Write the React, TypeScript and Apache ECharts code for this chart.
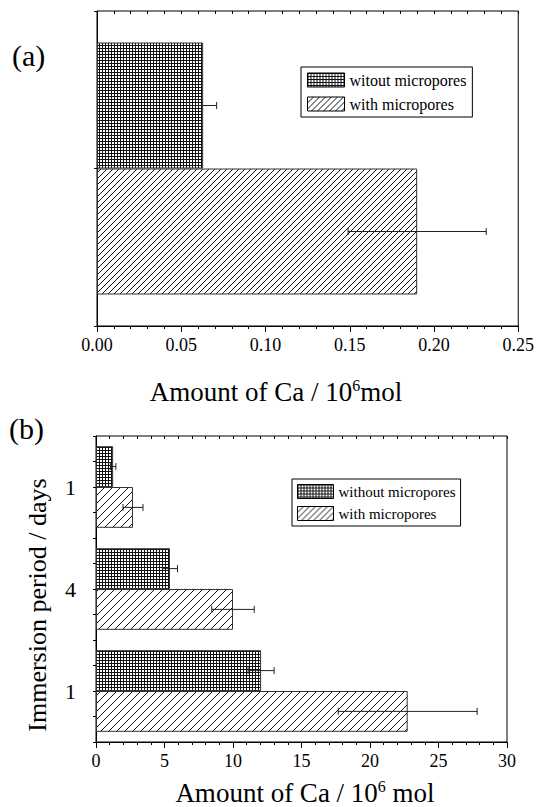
import React, { useEffect, useRef } from 'react';
import * as echarts from 'echarts';

// ---- data ----
const legendA = ['witout micropores', 'with micropores'];
const legendB = ['without micropores', 'with micropores'];
const categoriesA = [''];
const aWithout = [0.063];
const aWithoutErr = [0.008];
const aWith = [0.19];
const aWithErr = [0.041];
// immersion period labels, top to bottom
const categoriesB = ['1', '4', '1'];
const bWithout = [1.25, 5.4, 12.05];
const bWithoutErr = [0.2, 0.55, 0.95];
const bWith = [2.7, 10.0, 22.75];
const bWithErr = [0.73, 1.55, 5.07];

const FONT = '"Liberation Serif", "Times New Roman", serif';

function svgUrl(svg: string) {
  return 'data:image/svg+xml;charset=utf-8,' + encodeURIComponent(svg);
}
function gridPattern(step: number) {
  const svg = `<svg xmlns="http://www.w3.org/2000/svg" width="${step}" height="${step}"><rect width="${step}" height="${step}" fill="#fff"/><rect x="0" y="0" width="${step}" height="1" fill="#111"/><rect x="0" y="0" width="1" height="${step}" fill="#111"/></svg>`;
  return { image: svgUrl(svg), repeat: 'repeat', imageWidth: step, imageHeight: step } as any;
}
function hatchPattern(s: number) {
  const svg = `<svg xmlns="http://www.w3.org/2000/svg" width="${s}" height="${s}"><rect width="${s}" height="${s}" fill="#fff"/><path d="M0,${s} L${s},0 M-1,1 L1,-1 M${s - 1},${s + 1} L${s + 1},${s - 1}" stroke="#111" stroke-width="1"/></svg>`;
  return { image: svgUrl(svg), repeat: 'repeat', imageWidth: s, imageHeight: s } as any;
}

function errorSeries(xIdx: number, yIdx: number, vals: number[], errs: number[], slot: number) {
  return {
    type: 'custom',
    xAxisIndex: xIdx,
    yAxisIndex: yIdx,
    silent: true,
    z: 10,
    encode: { x: [1, 2], y: 0 },
    data: vals.map((v, i) => [i, v - errs[i], v + errs[i], slot]),
    renderItem: (params: any, api: any) => {
      const cat = api.value(0);
      const lo = api.value(1);
      const hi = api.value(2);
      const s = api.value(3);
      const p1 = api.coord([lo, cat]);
      const p2 = api.coord([hi, cat]);
      const band = api.size([0, 1])[1];
      const y = p1[1] + (-0.2 + 0.4 * s) * band;
      const h = 3.5;
      const st = { stroke: '#222', lineWidth: 1 };
      return {
        type: 'group',
        children: [
          { type: 'line', shape: { x1: p1[0], y1: y, x2: p2[0], y2: y }, style: st },
          { type: 'line', shape: { x1: p1[0], y1: y - h, x2: p1[0], y2: y + h }, style: st },
          { type: 'line', shape: { x1: p2[0], y1: y - h, x2: p2[0], y2: y + h }, style: st },
        ],
      };
    },
  };
}

const black = { color: '#000', width: 1 };

export default function App() {
  const ref = useRef<HTMLDivElement>(null);
  useEffect(() => {
    if (!ref.current) return;
    const chart = echarts.init(ref.current, undefined, { renderer: 'svg' });
    const crossA = gridPattern(3);
    const hatchA = hatchPattern(6);
    const crossB = gridPattern(3);
    const hatchB = hatchPattern(8);
    const barBorder = { borderColor: '#333', borderWidth: 1 };

    const option: any = {
      animation: false,
      backgroundColor: '#fff',
      grid: [
        { left: 97, top: 11, width: 422, height: 315, show: true, borderColor: '#000', borderWidth: 1, containLabel: false },
        { left: 96, top: 436, width: 411, height: 306, show: true, borderColor: '#000', borderWidth: 1, containLabel: false },
      ],
      xAxis: [
        {
          gridIndex: 0, type: 'value', min: 0, max: 0.25, interval: 0.05, position: 'bottom',
          axisLine: { show: true, lineStyle: black },
          axisTick: { show: true, length: 6, lineStyle: black },
          minorTick: { show: true, splitNumber: 5, length: 3, lineStyle: black },
          splitLine: { show: false },
          axisLabel: { formatter: (v: number) => v.toFixed(2), fontFamily: FONT, fontSize: 18, color: '#000', margin: 10, showMaxLabel: true, showMinLabel: true },
        },
        {
          gridIndex: 0, type: 'value', min: 0, max: 0.25, interval: 0.01, position: 'top',
          axisLine: { show: false },
          axisTick: { show: true, inside: true, length: 3, lineStyle: black },
          splitLine: { show: false },
          axisLabel: { show: false },
        },
        {
          gridIndex: 1, type: 'value', min: 0, max: 30, interval: 5, position: 'bottom',
          axisLine: { show: true, lineStyle: black },
          axisTick: { show: true, length: 6, lineStyle: black },
          minorTick: { show: true, splitNumber: 5, length: 3, lineStyle: black },
          splitLine: { show: false },
          axisLabel: { fontFamily: FONT, fontSize: 18, color: '#000', margin: 10, showMaxLabel: true, showMinLabel: true },
        },
        {
          gridIndex: 1, type: 'value', min: 0, max: 30, interval: 1, position: 'top',
          axisLine: { show: false },
          axisTick: { show: true, inside: true, length: 3, lineStyle: black },
          splitLine: { show: false },
          axisLabel: { show: false },
        },
      ],
      yAxis: [
        {
          gridIndex: 0, type: 'category', data: categoriesA,
          axisLine: { show: true, lineStyle: black },
          axisTick: { show: false }, axisLabel: { show: false },
        },
        {
          gridIndex: 0, type: 'value', min: 0, max: 2, interval: 1, position: 'right',
          axisLine: { show: false },
          axisTick: { show: true, inside: true, length: 3, lineStyle: black },
          splitLine: { show: false }, axisLabel: { show: false },
        },
        {
          gridIndex: 1, type: 'category', data: categoriesB, inverse: true,
          axisLine: { show: true, lineStyle: black },
          axisTick: { show: false },
          axisLabel: { fontFamily: FONT, fontSize: 22, color: '#000', margin: 20 },
        },
        {
          gridIndex: 1, type: 'value', min: 0, max: 12, interval: 1, position: 'right',
          axisLine: { show: false },
          axisTick: { show: true, inside: true, length: 3, lineStyle: black },
          splitLine: { show: false }, axisLabel: { show: false },
        },
      ],
      legend: [
        {
          data: legendA, orient: 'vertical', left: 301, top: 67,
          itemWidth: 37, itemHeight: 14, itemGap: 8, icon: 'rect',
          padding: [5, 6, 5, 6], borderColor: '#000', borderWidth: 1,
          selectedMode: false,
          itemStyle: { borderColor: '#000', borderWidth: 1 },
          textStyle: { fontFamily: FONT, fontSize: 16, color: '#000' },
        },
        {
          data: legendB, orient: 'vertical', left: 292, top: 479,
          itemWidth: 36, itemHeight: 14, itemGap: 7, icon: 'rect',
          padding: [5, 5, 5, 5], borderColor: '#000', borderWidth: 1,
          selectedMode: false,
          itemStyle: { borderColor: '#000', borderWidth: 1 },
          textStyle: { fontFamily: FONT, fontSize: 15, color: '#000' },
        },
      ],
      series: [
        { type: 'bar', name: legendA[0], xAxisIndex: 0, yAxisIndex: 0, data: aWithout, barGap: '0%', barCategoryGap: '20%', silent: true, itemStyle: { color: crossA, ...barBorder } },
        { type: 'bar', name: legendA[1], xAxisIndex: 0, yAxisIndex: 0, data: aWith, barGap: '0%', barCategoryGap: '20%', silent: true, itemStyle: { color: hatchA, ...barBorder } },
        { type: 'bar', name: legendB[0], xAxisIndex: 2, yAxisIndex: 2, data: bWithout, barGap: '0%', barCategoryGap: '20%', silent: true, itemStyle: { color: crossB, ...barBorder } },
        { type: 'bar', name: legendB[1], xAxisIndex: 2, yAxisIndex: 2, data: bWith, barGap: '0%', barCategoryGap: '20%', silent: true, itemStyle: { color: hatchB, ...barBorder } },
        errorSeries(0, 0, aWithout, aWithoutErr, 0),
        errorSeries(0, 0, aWith, aWithErr, 1),
        errorSeries(2, 2, bWithout, bWithoutErr, 0),
        errorSeries(2, 2, bWith, bWithErr, 1),
      ],
      graphic: [
        { type: 'text', x: 12, y: 55, style: { text: '(a)', font: `30px ${FONT}`, fill: '#000', align: 'left', verticalAlign: 'middle' } },
        { type: 'text', x: 9, y: 428, style: { text: '(b)', font: `30px ${FONT}`, fill: '#000', align: 'left', verticalAlign: 'middle' } },
        {
          type: 'text', x: 276, y: 405,
          style: {
            text: '{a|Amount of Ca / 10}{s|6}{a|mol}', align: 'center', verticalAlign: 'bottom', fill: '#000',
            rich: {
              a: { fontFamily: FONT, fontSize: 27, lineHeight: 28, verticalAlign: 'bottom', fill: '#000' },
              s: { fontFamily: FONT, fontSize: 16, lineHeight: 16, verticalAlign: 'top', padding: [0, 0, 25, 0], fill: '#000' },
            },
          },
        },
        {
          type: 'text', x: 305, y: 806,
          style: {
            text: '{a|Amount of Ca / 10}{s|6}{a| mol}', align: 'center', verticalAlign: 'bottom', fill: '#000',
            rich: {
              a: { fontFamily: FONT, fontSize: 27, lineHeight: 28, verticalAlign: 'bottom', fill: '#000' },
              s: { fontFamily: FONT, fontSize: 16, lineHeight: 16, verticalAlign: 'top', padding: [0, 0, 16, 0], fill: '#000' },
            },
          },
        },
        {
          type: 'text', x: 37, y: 605, rotation: Math.PI / 2,
          style: { text: 'Immersion period / days', font: `26px ${FONT}`, fill: '#000', align: 'center', verticalAlign: 'middle' },
        },
      ],
    };
    chart.setOption(option);
    return () => chart.dispose();
  }, []);
  return (
    <div
      ref={ref}
      style={{ position: 'fixed', left: 0, top: 0, width: 537, height: 807, background: '#fff' }}
    />
  );
}
